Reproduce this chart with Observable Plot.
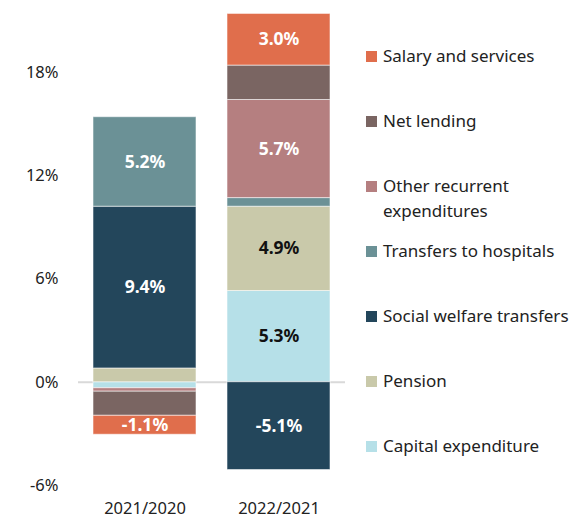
<!DOCTYPE html>
<html>
<head>
<meta charset="utf-8">
<script src="https://cdn.jsdelivr.net/npm/d3@7"></script>
<script src="https://cdn.jsdelivr.net/npm/@observablehq/plot@0.6"></script>
<style>
  html, body { margin: 0; padding: 0; background: #fff; }
  #wrap { position: relative; width: 572px; height: 520px; font-family: "Noto Sans", sans-serif; }
  #legend { position: absolute; left: 366px; top: 43px; }
  .item { height: 65px; display: flex; align-items: flex-start; white-space: nowrap; }
  .sw { width: 11px; height: 11px; margin-top: 8px; margin-right: 6px; flex: none; }
  .lab { font-size: 17px; line-height: 25px; color: #222; }
</style>
</head>
<body>
<div id="wrap"><div id="chart"></div><div id="legend"></div></div>
<script>
const years = ["2021/2020", "2022/2021"];
const series = ["Capital expenditure", "Pension", "Social welfare transfers", "Transfers to hospitals", "Other recurrent expenditures", "Net lending", "Salary and services"];
const values2021 = [-0.35, 0.8, 9.4, 5.2, -0.2, -1.4, -1.1];
const values2022 = [5.3, 4.9, -5.1, 0.5, 5.7, 2.0, 3.0];
const colors = ["#b6e0e8", "#c9c9aa", "#23465b", "#6b9196", "#b57f80", "#7a6562", "#e06e4c"];
const labelColors = ["#111", "#111", "#fff", "#fff", "#fff", "#fff", "#fff"];
const unlabeledSeries = ["Net lending"];
const yTicks = [-6, 0, 6, 12, 18];

const data = [];
years.forEach((yr, j) => {
  const vals = j === 0 ? values2021 : values2022;
  series.forEach((s, i) => data.push({year: yr, series: s, value: vals[i], idx: i}));
});

const showLabel = d => Math.abs(d.value) >= 1 && !unlabeledSeries.includes(d.series);

const chart = Plot.plot({
  width: 572,
  height: 520,
  marginLeft: 78,
  marginRight: 227,
  marginTop: 10,
  marginBottom: 35,
  style: {fontFamily: "Noto Sans, sans-serif", fontSize: "16.5px", color: "#222", background: "#fff", overflow: "visible"},
  x: {domain: years, paddingInner: 0.23, paddingOuter: 0.111, label: null},
  y: {domain: [-6, 21.6], label: null},
  color: {domain: series, range: colors},
  marks: [
    Plot.ruleY([0], {stroke: "#d9d9d9", strokeWidth: 2}),
    Plot.barY(data, Plot.stackY({x: "year", y: "value", fill: "series", stroke: "#fff", strokeWidth: 1, strokeOpacity: 0.55})),
    Plot.text(data, Plot.stackY({
      x: "year", y: "value",
      text: d => showLabel(d) ? d.value.toFixed(1) + "%" : "",
      fill: d => labelColors[d.idx],
      fontWeight: "bold", fontSize: 17.5
    })),
    Plot.axisY({ticks: yTicks, tickFormat: d => d + "%", tickSize: 0, tickPadding: 20, fontSize: 16.5}),
    Plot.axisX({tickSize: 0, tickPadding: 17, fontSize: 16.5})
  ]
});
document.getElementById("chart").appendChild(chart);

const legend = document.getElementById("legend");
const legendText = {"Other recurrent expenditures": "Other recurrent<br>expenditures"};
series.slice().reverse().forEach(s => {
  const i = series.indexOf(s);
  const item = document.createElement("div");
  item.className = "item";
  item.innerHTML = `<div class="sw" style="background:${colors[i]}"></div><div class="lab">${legendText[s] || s}</div>`;
  legend.appendChild(item);
});
</script>
</body>
</html>
